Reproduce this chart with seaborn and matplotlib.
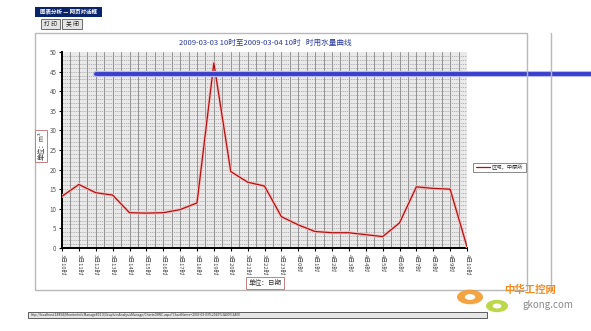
import matplotlib
matplotlib.use("Agg")
import matplotlib.pyplot as plt
import matplotlib.patheffects as pe
from matplotlib.patches import Rectangle, Circle
from matplotlib.lines import Line2D
import seaborn as sns
import pandas as pd
import numpy as np

sns.set_theme(style="white")
plt.rcParams['font.family'] = ['Noto Sans CJK SC', 'DejaVu Sans']

# ---- data ----
hours = ["3日10时", "3日11时", "3日12时", "3日13时", "3日14时", "3日15时", "3日16时",
         "3日17时", "3日18时", "3日19时", "3日20时", "3日21时", "3日22时", "3日23时",
         "4日0时", "4日1时", "4日2时", "4日3时", "4日4时", "4日5时", "4日6时",
         "4日7时", "4日8时", "4日9时", "4日10时"]
water = [13.2, 16.2, 14.1, 13.5, 9.0, 8.9, 9.0, 9.8, 11.5, 47.2, 19.5, 16.8, 15.8, 8.0,
         5.9, 4.2, 3.9, 3.9, 3.4, 2.9, 6.4, 15.6, 15.2, 15.0, 0.3]
limit_value = 44.5
limit_start = "3日12时"
series_name = "区域，中原所"
title = "2009-03-03 10时至2009-03-04 10时   时用水量曲线"
yticks = [0, 5, 10, 15, 20, 25, 30, 35, 40, 45, 50]

W, H = 591, 331
fig = plt.figure(figsize=(W / 100, H / 100), dpi=100)
fig.patch.set_facecolor("white")

def fx(px):
    return px / W

def fy(py):
    return 1 - py / H

# ---- window chrome ----
fig.patches.append(Rectangle((fx(35), fy(17)), fx(102) - fx(35), 10 / H,
                             transform=fig.transFigure, facecolor="#0a246a", edgecolor="none"))
fig.text(fx(40), fy(12), "图表分析 — 网页对话框", fontsize=4, color="white",
         va="center", ha="left", fontweight="bold")
for x0, x1, lab in [(41, 60, "打 印"), (62, 82, "关 闭")]:
    fig.patches.append(Rectangle((fx(x0), fy(29)), (x1 - x0) / W, 10 / H,
                                 transform=fig.transFigure, facecolor="#e4e4e4",
                                 edgecolor="#555555", linewidth=0.6))
    fig.text(fx((x0 + x1) / 2), fy(24), lab, fontsize=4.2, color="#222222",
             ha="center", va="center")
# outer frame
fig.patches.append(Rectangle((fx(35), fy(290)), (527 - 35) / W, (290 - 33) / H,
                             transform=fig.transFigure, facecolor="none",
                             edgecolor="#b8b8b8", linewidth=1.0))
fig.lines.append(Line2D([fx(551), fx(551)], [fy(33), fy(290)], transform=fig.transFigure,
                        color="#b8b8b8", linewidth=1.0))
# status bar
fig.patches.append(Rectangle((fx(28), fy(318)), (487 - 28) / W, 6 / H,
                             transform=fig.transFigure, facecolor="#e6e6e6",
                             edgecolor="#444444", linewidth=0.6))
fig.text(fx(31), fy(315), "http://localhost:18894/MonitorInfoManage801.0/GraphicsAnalysisManage/ChartsOfWC.aspx?ChartName=2009-03-03%2010%3A00%3A00",
         fontsize=2.4, color="#333333", ha="left", va="center")

# ---- chart axes ----
ax = fig.add_axes([fx(62), fy(248), (467 - 62) / W, (248 - 52) / H])
ax.set_facecolor("#e9e9e9")
x_idx = np.arange(len(hours))
df = pd.DataFrame({"x": x_idx, "v": water, "s": series_name})

# grid
for xv in np.arange(0, len(hours) - 0.5, 0.5):
    ax.axvline(xv, color="#858585", linewidth=0.6, zorder=1)
for yv in range(1, 50):
    ax.axhline(yv, color="#959595", linewidth=0.45, linestyle=(0, (2, 1.5)), zorder=1)

sns.lineplot(data=df, x="x", y="v", hue="s", palette=["#b01010"], ax=ax, linewidth=0.9,
             zorder=4, legend=False)
for ln in ax.lines[-1:]:
    ln.set_path_effects([pe.Stroke(linewidth=2.2, foreground="#f4c0c0"), pe.Normal()])

# blue limit line extending out to figure edge
start = hours.index(limit_start)
ax.plot([start, 32], [limit_value, limit_value], color="#3a3fcc", linewidth=2.8,
        clip_on=False, zorder=5,
        path_effects=[pe.Stroke(linewidth=4.4, foreground="#b8bbf0"), pe.Normal()])

ax.set_xlim(0, len(hours) - 1)
ax.set_ylim(0, 50)
ax.set_yticks(yticks)
ax.set_yticklabels([str(v) for v in yticks], fontsize=4.5, color="#555555")
ax.set_xticks(x_idx)
ax.set_xticklabels(hours, rotation=270, fontsize=4.2, color="#444444")
ax.tick_params(axis="both", length=2.5, width=0.8, color="black", pad=1.5,
               bottom=True, left=True)
for side in ["top", "right"]:
    ax.spines[side].set_visible(False)
for side in ["left", "bottom"]:
    ax.spines[side].set_color("black")
    ax.spines[side].set_linewidth(1.4)
ax.set_xlabel("")
ax.set_ylabel("")

fig.text(fx(265), fy(43), title, fontsize=5.5, color="#2a3a9a", ha="center", va="center")

# axis unit boxes
fig.text(fx(41.5), fy(146), "单位：m³", fontsize=4.8, rotation=90, ha="center", va="center",
         color="#333333",
         bbox=dict(boxstyle="square,pad=0.3", facecolor="white", edgecolor="#c08080", linewidth=0.7))
fig.text(fx(265), fy(283), "单位：日期", fontsize=4.8, ha="center", va="center", color="#333333",
         bbox=dict(boxstyle="square,pad=0.35", facecolor="white", edgecolor="#c08080", linewidth=0.7))

# legend box
fig.patches.append(Rectangle((fx(473), fy(172)), (526 - 473) / W, 9 / H,
                             transform=fig.transFigure, facecolor="white",
                             edgecolor="#777777", linewidth=0.6))
fig.lines.append(Line2D([fx(476), fx(490)], [fy(167.5), fy(167.5)], transform=fig.transFigure,
                        color="#b01010", linewidth=0.9))
fig.text(fx(491), fy(167.5), series_name, fontsize=3.8, ha="left", va="center", color="#333333")

# watermark
for cx, cy, r, col in [(470, 297, 13, "#f39a2b"), (497, 306, 11, "#b5d334")]:
    fig.patches.append(Circle((fx(cx), fy(cy)), r / W, transform=fig.transFigure,
                              facecolor=col, edgecolor="none", alpha=0.9))
    fig.patches.append(Circle((fx(cx), fy(cy)), r * 0.4 / W, transform=fig.transFigure,
                              facecolor="white", edgecolor="none"))
fig.text(fx(530), fy(290), "中华工控网", fontsize=7.5, color="#f08a20", ha="center",
         va="center", fontweight="bold")
fig.text(fx(548), fy(305), "gkong.com", fontsize=7, color="#8a8a8a", ha="center", va="center")

fig.savefig("out.png", dpi=100)
